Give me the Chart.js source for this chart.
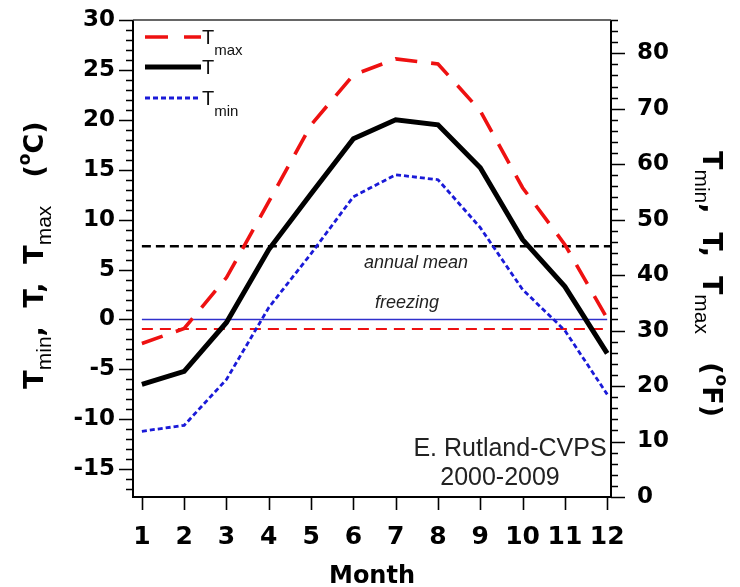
<!DOCTYPE html>
<html><head><meta charset="utf-8">
<script src="https://cdn.jsdelivr.net/npm/chart.js@4.4.1/dist/chart.umd.min.js"></script>
<style>html,body{margin:0;padding:0;background:#fff;}canvas{display:block;}</style>
</head><body>
<canvas id="c" width="740" height="587"></canvas>
<script>
// ---- data (°C) ----
const months = [1,2,3,4,5,6,7,8,9,10,11,12];
const tMax  = [-2.4, -0.9, 4.2, 11.8, 19.5, 24.5, 26.1, 25.6, 20.9, 13.2, 7.5, 0.1];
const tMean = [-6.5, -5.2, -0.3, 7.0, 12.6, 18.1, 20.0, 19.5, 15.2, 8.0, 3.3, -3.4];
const tMin  = [-11.2, -10.6, -6.0, 1.2, 6.6, 12.3, 14.5, 14.0, 9.2, 3.0, -1.1, -7.5];
const annualMean = 7.33;
const freezing = 0;
const redRef = -0.95;
const xRange = [0.79, 12.09];
const cRange = [-17.78, 30];
const cTickStep = 5, cMinorStep = 1;
const fTickStep = 10, fMinorStep = 2;
const toF = c => c * 9 / 5 + 32;
const fRange = [toF(cRange[0]), toF(cRange[1])];

const pts = (xs, ys) => xs.map((x, i) => ({x, y: ys[i]}));
const hline = (x0, x1, v) => [{x: x0, y: v}, {x: x1, y: v}];

const RED = '#ee1111', BLUE = '#1a1ad8', BLACK = '#000';
const TICKFONT = 'DejaVu Sans';

function drawRich(ctx, parts, x, y, angle) {
  ctx.save();
  ctx.translate(x, y); ctx.rotate(angle);
  let w = 0;
  for (const p of parts) { ctx.font = p.f; p.w = ctx.measureText(p.t).width; w += p.w; }
  let cx = -w / 2;
  ctx.textBaseline = 'alphabetic'; ctx.textAlign = 'left';
  for (const p of parts) { ctx.font = p.f; ctx.fillText(p.t, cx, p.dy || 0); cx += p.w; }
  ctx.restore();
}

const decor = {
  id: 'decor',
  afterDraw(chart) {
    const ctx = chart.ctx, a = chart.chartArea;
    const sx = chart.scales.x, sy = chart.scales.y, sf = chart.scales.y2;
    ctx.save();
    ctx.fillStyle = '#000'; ctx.strokeStyle = '#000';
    // frame
    ctx.lineWidth = 2;
    ctx.beginPath();
    ctx.moveTo(a.left, a.top); ctx.lineTo(a.left, a.bottom); ctx.lineTo(a.right, a.bottom); ctx.lineTo(a.right, a.top);
    ctx.stroke();
    ctx.lineWidth = 1.5; ctx.strokeStyle = '#333';
    ctx.beginPath(); ctx.moveTo(a.left, a.top); ctx.lineTo(a.right, a.top); ctx.stroke();
    ctx.strokeStyle = '#000';
    // left ticks
    ctx.lineWidth = 1.6;
    ctx.beginPath();
    for (let v = Math.ceil(cRange[0]); v <= cRange[1]; v += cMinorStep) {
      const y = Math.round(sy.getPixelForValue(v)) + 0.5;
      const len = (v % cTickStep === 0) ? 14 : 7;
      ctx.moveTo(a.left - len, y); ctx.lineTo(a.left, y);
    }
    // right ticks
    for (let v = Math.ceil(fRange[0]); v <= fRange[1]; v += fMinorStep) {
      const y = Math.round(sf.getPixelForValue(v)) + 0.5;
      const len = (v % fTickStep === 0) ? 14 : 7;
      ctx.moveTo(a.right, y); ctx.lineTo(a.right + len, y);
    }
    // bottom ticks
    for (const m of months) {
      const x = Math.round(sx.getPixelForValue(m)) + 0.5;
      ctx.moveTo(x, a.bottom); ctx.lineTo(x, a.bottom + 13);
    }
    ctx.stroke();

    // axis titles
    const B = 'bold 27px "DejaVu Sans"', S = '21px "Liberation Sans"', SUP = 'bold 17px "DejaVu Sans"';
    const title = unit => [
      {t: 'T', f: B}, {t: 'min', f: S, dy: 8}, {t: ',  T,  T', f: B}, {t: 'max', f: S, dy: 8},
      {t: '   (', f: B}, {t: 'o', f: SUP, dy: -13}, {t: unit + ')', f: B}
    ];
    drawRich(ctx, title('C'), 43, 255, -Math.PI / 2);
    drawRich(ctx, title('F'), 703, 284, Math.PI / 2);
    ctx.font = 'bold 24px "DejaVu Sans"'; ctx.textAlign = 'center'; ctx.textBaseline = 'alphabetic';
    ctx.fillText('Month', (a.left + a.right) / 2, 583);

    // legend
    const legend = [
      {c: RED, w: 3.5, d: [23, 16], y: 37, sub: 'max'},
      {c: BLACK, w: 5, d: [], y: 67, sub: ''},
      {c: BLUE, w: 2.8, d: [5, 3], y: 98, sub: 'min'}
    ];
    for (const l of legend) {
      ctx.save();
      ctx.strokeStyle = l.c; ctx.lineWidth = l.w; ctx.setLineDash(l.d);
      ctx.beginPath(); ctx.moveTo(145, l.y); ctx.lineTo(201, l.y); ctx.stroke();
      ctx.restore();
      ctx.textAlign = 'left'; ctx.fillStyle = '#111';
      ctx.font = '20px "Liberation Sans"';
      ctx.fillText('T', 202, l.y + 7);
      const tw = ctx.measureText('T').width;
      ctx.font = '15px "Liberation Sans"';
      if (l.sub) ctx.fillText(l.sub, 202 + tw, l.y + 18);
    }

    // annotations
    ctx.fillStyle = '#222'; ctx.textAlign = 'center';
    ctx.font = 'italic 18px "Liberation Sans"';
    ctx.fillText('annual mean', 416, 268);
    ctx.fillText('freezing', 407, 308);
    ctx.font = '25px "Liberation Sans"';
    ctx.fillText('E. Rutland-CVPS', 510, 456);
    ctx.fillText('2000-2009', 500, 485);
    ctx.restore();
  }
};

const noPad = s => { s.paddingTop = 0; s.paddingBottom = 0; s.paddingLeft = 0; s.paddingRight = 0; };

new Chart(document.getElementById('c'), {
  type: 'line',
  data: {
    datasets: [
      {label: 'T', data: pts(months, tMean), borderColor: BLACK, borderWidth: 5},
      {label: 'Tmax', data: pts(months, tMax), borderColor: RED, borderWidth: 3.6, borderDash: [22, 14]},
      {label: 'Tmin', data: pts(months, tMin), borderColor: BLUE, borderWidth: 2.8, borderDash: [5, 3]},
      {label: 'annual mean', data: hline(months[0], xRange[1], annualMean), borderColor: BLACK, borderWidth: 2.5, borderDash: [9, 5]},
      {label: 'freezing', data: hline(months[0], months[months.length - 1], freezing), borderColor: '#3030cc', borderWidth: 1.3},
      {label: 'ref', data: hline(months[0], months[months.length - 1], redRef), borderColor: RED, borderWidth: 2, borderDash: [11, 7]}
    ]
  },
  options: {
    responsive: false, animation: false, devicePixelRatio: 1,
    elements: {point: {radius: 0}, line: {tension: 0, fill: false, borderCapStyle: 'butt'}},
    layout: {padding: {top: 20, left: 0, right: 0, bottom: 0}, autoPadding: false},
    plugins: {legend: {display: false}, tooltip: {enabled: false}},
    scales: {
      x: {
        type: 'linear', min: xRange[0], max: xRange[1],
        grid: {display: false, drawTicks: false}, border: {display: false},
        ticks: {stepSize: 1, includeBounds: false, padding: 25, color: '#000', font: {family: TICKFONT, weight: 'bold', size: 25}},
        afterFit: s => { s.height = 90; noPad(s); }
      },
      y: {
        position: 'left', min: cRange[0], max: cRange[1],
        grid: {display: false, drawTicks: false}, border: {display: false},
        ticks: {stepSize: cTickStep, includeBounds: false, padding: 18, color: '#000', font: {family: TICKFONT, weight: 'bold', size: 23}},
        afterFit: s => { s.width = 133; noPad(s); }
      },
      y2: {
        position: 'right', min: fRange[0], max: fRange[1],
        grid: {display: false, drawTicks: false}, border: {display: false},
        ticks: {stepSize: fTickStep, includeBounds: false, padding: 26, color: '#000', font: {family: TICKFONT, weight: 'bold', size: 23}},
        afterFit: s => { s.width = 129; noPad(s); }
      }
    }
  },
  plugins: [decor]
});
</script>
</body></html>
